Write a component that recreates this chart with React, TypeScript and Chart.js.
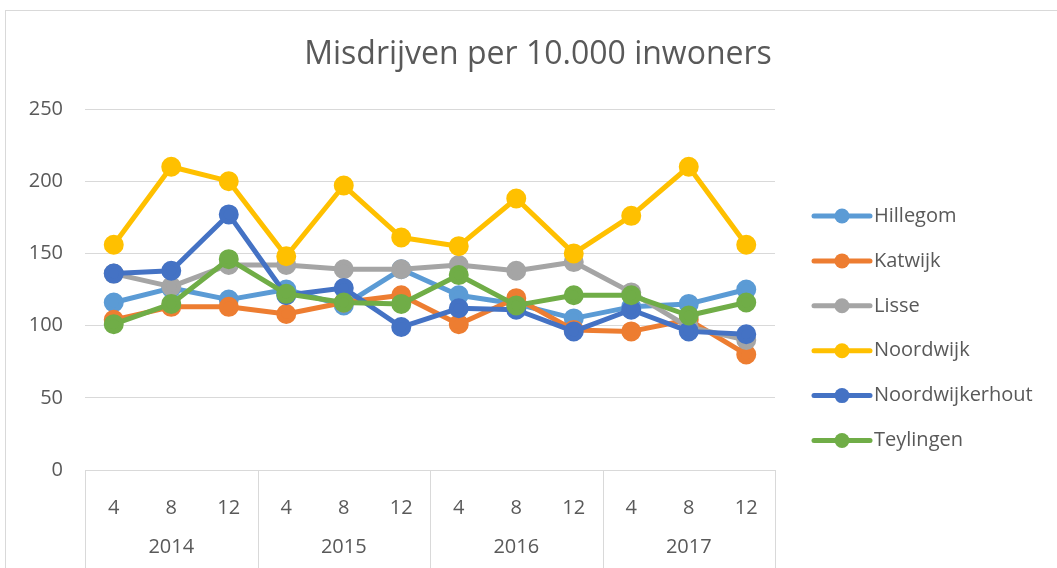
import { useEffect, useRef } from "react";
import { Chart, registerables } from "chart.js";

Chart.register(...registerables);

const TITLE = "Misdrijven per 10.000 inwoners";
const months = ["4", "8", "12", "4", "8", "12", "4", "8", "12", "4", "8", "12"];
const years = ["2014", "2015", "2016", "2017"];
const yTicks = [0, 50, 100, 150, 200, 250];

const hillegom = [116, 126, 118, 125, 114, 139, 121, 115, 105, 113, 115, 125];
const katwijk = [104, 113, 113, 108, 116, 121, 101, 119, 97, 96, 104, 80];
const lisse = [136, 127, 142, 142, 139, 139, 142, 138, 144, 123, 99, 90];
const noordwijk = [156, 210, 200, 148, 197, 161, 155, 188, 150, 176, 210, 156];
const noordwijkerhout = [136, 138, 177, 121, 126, 99, 112, 111, 96, 111, 96, 94];
const teylingen = [101, 115, 146, 122, 116, 115, 135, 114, 121, 121, 107, 116];

const seriesNames = ["Hillegom", "Katwijk", "Lisse", "Noordwijk", "Noordwijkerhout", "Teylingen"];
const seriesValues = [hillegom, katwijk, lisse, noordwijk, noordwijkerhout, teylingen];
const seriesColors = ["#5b9bd5", "#ed7d31", "#a5a5a5", "#ffc000", "#4472c4", "#70ad47"];

const FONT = "'Open Sans', sans-serif";
const TEXT = "#595959";
const GRID = "#d9d9d9";

const decorPlugin = {
  id: "decor",
  afterDraw(chart: any) {
    const ctx = chart.ctx;
    const x = chart.scales.x;
    const area = chart.chartArea;
    ctx.save();
    // title
    ctx.fillStyle = TEXT;
    ctx.font = `32px ${FONT}`;
    ctx.textAlign = "center";
    ctx.textBaseline = "middle";
    ctx.fillText(TITLE, 538, 55);

    // group separators and year labels
    const step = x.getPixelForValue(1) - x.getPixelForValue(0);
    ctx.strokeStyle = GRID;
    ctx.lineWidth = 1;
    for (let g = 0; g <= years.length; g++) {
      const px = Math.round(x.getPixelForValue(g * 3) - step / 2) + 0.5;
      ctx.beginPath();
      ctx.moveTo(px, area.bottom);
      ctx.lineTo(px, chart.height);
      ctx.stroke();
    }
    ctx.font = `20px ${FONT}`;
    ctx.fillStyle = TEXT;
    years.forEach((yr, g) => {
      const cx = x.getPixelForValue(g * 3 + 1);
      ctx.fillText(yr, cx, 547);
    });

    // legend
    const lx0 = 814;
    const lx1 = 870;
    const y0 = 216;
    const dy = 44.9;
    chart.data.datasets.forEach((ds: any, i: number) => {
      const cy = y0 + i * dy;
      ctx.strokeStyle = ds.borderColor;
      ctx.lineWidth = 5;
      ctx.lineCap = "round";
      ctx.beginPath();
      ctx.moveTo(lx0, cy);
      ctx.lineTo(lx1, cy);
      ctx.stroke();
      ctx.fillStyle = ds.borderColor;
      ctx.beginPath();
      ctx.arc((lx0 + lx1) / 2, cy, 7.5, 0, Math.PI * 2);
      ctx.fill();
      ctx.fillStyle = TEXT;
      ctx.textAlign = "left";
      ctx.font = `20px ${FONT}`;
      ctx.fillText(ds.label, 874, cy);
    });
    ctx.restore();
  },
};

export default function App() {
  const ref = useRef<HTMLCanvasElement>(null);
  useEffect(() => {
    if (!ref.current) return;
    const chart = new Chart(ref.current, {
      type: "line",
      data: {
        labels: months,
        datasets: seriesNames.map((name, i) => ({
          label: name,
          data: seriesValues[i],
          borderColor: seriesColors[i],
          backgroundColor: seriesColors[i],
          pointBackgroundColor: seriesColors[i],
          pointBorderColor: seriesColors[i],
          borderWidth: 5,
          borderJoinStyle: "round" as const,
          pointRadius: 7.5,
          pointHoverRadius: 7.5,
          tension: 0,
          fill: false,
          order: seriesNames.length - i,
        })),
      },
      options: {
        animation: false,
        responsive: false,
        maintainAspectRatio: false,
        layout: { padding: { top: 109, right: 282, left: 0, bottom: 0 } },
        plugins: {
          legend: { display: false },
          title: { display: false },
          tooltip: { enabled: false },
        },
        scales: {
          x: {
            type: "category",
            offset: true,
            grid: { display: false },
            border: { display: true, color: GRID, width: 1 },
            ticks: {
              color: TEXT,
              font: { family: FONT, size: 20 },
              padding: 18,
              maxRotation: 0,
              autoSkip: false,
            },
            afterFit: (s: any) => {
              s.height = 98;
            },
          },
          y: {
            min: 0,
            max: 250,
            afterBuildTicks: (s: any) => {
              s.ticks = yTicks.map((v) => ({ value: v }));
            },
            grid: { color: GRID, lineWidth: 1, drawTicks: false },
            border: { display: false },
            ticks: {
              color: TEXT,
              font: { family: FONT, size: 20 },
              padding: 22,
            },
            afterFit: (s: any) => {
              s.width = 85;
            },
          },
        },
      },
      plugins: [decorPlugin],
    });
    return () => chart.destroy();
  }, []);

  return (
    <div style={{ position: "fixed", left: 0, top: 0, width: 1057, height: 568, overflow: "hidden", background: "#fff" }}>
      <div
        style={{
          position: "absolute",
          left: 5,
          top: 10,
          width: 1100,
          height: 600,
          border: "1px solid #d9d9d9",
          boxSizing: "border-box",
        }}
      />
      <canvas ref={ref} width={1057} height={568} style={{ position: "absolute", left: 0, top: 0 }} />
    </div>
  );
}
